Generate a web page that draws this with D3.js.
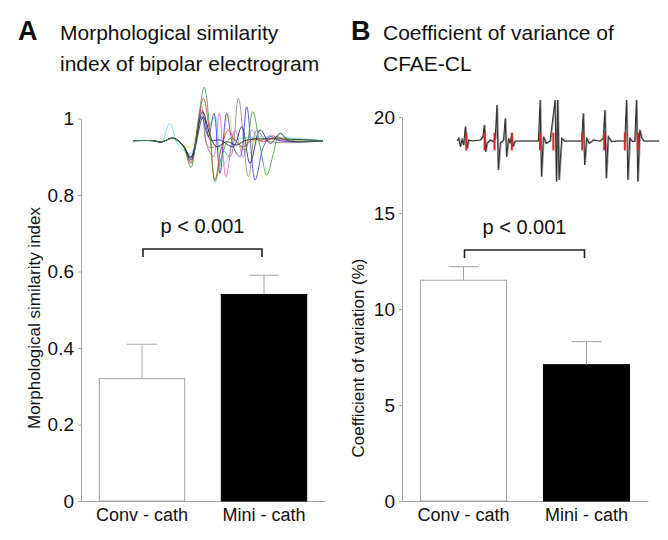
<!DOCTYPE html>
<html><head><meta charset="utf-8">
<script src="https://cdn.jsdelivr.net/npm/d3@7"></script>
<style>
body{margin:0;background:#fff}
text{font-family:"Liberation Sans",Arial,Helvetica,sans-serif;fill:#111}
</style>
</head><body><svg id="c" width="668" height="540"></svg>
<script>
// ---------- data ----------
const categories = ["Conv - cath", "Mini - cath"];
const msiMean = [0.32, 0.54];
const msiErr = [0.09, 0.05];
const msiTicks = [0, 0.2, 0.4, 0.6, 0.8, 1];
const msiTickLabels = ["0", "0.2", "0.4", "0.6", "0.8", "1"];
const cvMean = [11.5, 7.1];
const cvErr = [0.7, 1.2];
const cvTicks = [0, 5, 10, 15, 20];
const cvTickLabels = ["0", "5", "10", "15", "20"];
const pText = "p < 0.001";

// inset A: overlaid bipolar electrogram beats [sample, amplitude]
const egmPrefix = [[0,0],[60,0],[85,-4],[120,8],[150,-15]];
const egmGreen = [[0,0],[60,0],[82,-4],[120,7],[150,-18],[173,-80],[195,62],[213,160],[230,32],[245,-123],[265,-48],[290,7],[315,-8],[335,-28],[358,87],[380,-18],[400,-103],[420,-38],[438,22],[460,7],[480,0],[568,0]];
const egmRed = [[173,-68],[210,127],[228,32],[245,-118],[265,-18],[285,32],[305,2],[330,-18],[360,7],[390,-3],[430,12],[460,0],[568,0]];
const egmBlue = [[173,-53],[205,72],[225,12],[242,82],[260,-98],[280,82],[300,-18],[320,-48],[340,102],[365,-118],[390,-18],[410,12],[440,0],[568,0]];
const egmMagenta = [[173,-63],[205,92],[222,-18],[240,-48],[258,82],[278,-108],[305,32],[330,-48],[355,32],[380,0],[415,17],[440,0],[568,0]];
const egmCyan = [[0,0],[60,0],[85,-4],[110,52],[135,-13],[173,-38],[205,92],[225,42],[245,72],[265,-78],[285,-48],[305,0],[568,0]];
const egmYellow = [[173,-18],[200,32],[240,-48],[260,-38],[285,82],[310,-38],[335,-18],[360,0],[568,0]];
const egmGray = [[173,-48],[205,102],[225,-18],[260,-18],[290,-48],[315,127],[345,-108],[370,32],[400,0],[568,0]];
const egmBlack = [[173,-50],[208,87],[230,17],[250,-18],[280,-3],[310,-13],[340,2],[568,0]];
const egmNavy = [[173,-58],[210,72],[232,2],[260,2],[300,-18],[325,42],[350,-68],[380,32],[410,-8],[440,22],[465,0],[568,0]];

// inset B: CFAE recording [sample, amplitude] and red CL markers (sample)
const cfaeTrace = [[0,0],[5,8],[10,-17],[15,5],[20,-12],[25,43],[30,-22],[35,3],[45,0],[70,3],[78,13],[82,48],[86,-32],[90,-7],[100,3],[108,-2],[115,8],[120,108],[124,-87],[130,-7],[140,3],[145,68],[149,-47],[155,8],[160,-7],[165,23],[168,-17],[175,0],[245,0],[250,123],[254,-107],[260,13],[268,-7],[280,0],[295,123],[299,-122],[303,123],[307,-117],[315,8],[325,-2],[330,0],[375,0],[380,83],[384,-72],[390,8],[398,-7],[410,3],[430,0],[440,8],[445,93],[449,-112],[455,13],[465,-2],[480,0],[505,0],[510,123],[514,-117],[520,8],[528,-2],[535,0],[540,123],[544,-122],[550,33],[556,8],[562,0],[608,0]];
const cfaeMarks = [28, 83, 113, 165, 250, 290, 377, 443, 505, 545];

// ---------- drawing ----------
const svg = d3.select("#c");
const AX = "#a3a3a3";

function panel(o) {
  const y = d3.scaleLinear().domain(o.domain).range([501, o.top]);
  const x = d3.scaleBand().domain(categories).range([o.x0, o.x1]).paddingInner(0.3).paddingOuter(0.15);
  const g = svg.append("g");
  // y axis
  const ya = d3.axisLeft(y).tickValues(o.ticks).tickSize(3).tickSizeOuter(0)
      .tickFormat((d, i) => o.tickLabels[i]);
  const yg = g.append("g").attr("transform", `translate(${o.x0},0)`).call(ya);
  yg.select(".domain").attr("stroke", AX);
  yg.selectAll(".tick line").attr("stroke", AX);
  yg.selectAll(".tick text").attr("x", -7).attr("font-size", 19).attr("fill", "#111")
    .attr("font-family", '"Liberation Sans",Arial,sans-serif');
  // x axis
  const xa = d3.axisBottom(x).tickSize(0).tickSizeOuter(0);
  const xg = g.append("g").attr("transform", "translate(0,501)").call(xa);
  xg.select(".domain").attr("stroke", AX);
  xg.selectAll(".tick text").attr("y", 7).attr("font-size", 18).attr("fill", "#111")
    .attr("font-family", '"Liberation Sans",Arial,sans-serif');
  // bars
  g.selectAll("rect.bar").data(categories).join("rect").attr("class", "bar")
    .attr("x", d => x(d)).attr("width", x.bandwidth())
    .attr("y", (d, i) => y(o.mean[i])).attr("height", (d, i) => y(0) - y(o.mean[i]))
    .attr("fill", (d, i) => i === 0 ? "#fff" : "#000")
    .attr("stroke", (d, i) => i === 0 ? AX : "#000").attr("stroke-width", 1);
  // error bars
  categories.forEach((c, i) => {
    const cx = x(c) + x.bandwidth() / 2;
    g.append("line").attr("x1", cx).attr("x2", cx)
      .attr("y1", y(o.mean[i])).attr("y2", y(o.mean[i] + o.err[i])).attr("stroke", AX);
    g.append("line").attr("x1", cx - 15).attr("x2", cx + 15)
      .attr("y1", y(o.mean[i] + o.err[i])).attr("y2", y(o.mean[i] + o.err[i])).attr("stroke", AX);
  });
  // significance bracket
  const c0 = x(categories[0]) + x.bandwidth() / 2 + 1, c1 = x(categories[1]) + x.bandwidth() / 2 - 2;
  g.append("path").attr("d", `M${c0},${o.brY + 8}V${o.brY}H${c1}V${o.brY + 8}`)
    .attr("fill", "none").attr("stroke", "#222").attr("stroke-width", 1.6);
  g.append("text").attr("x", (c0 + c1) / 2).attr("y", o.brY - 16).attr("text-anchor", "middle")
    .attr("font-size", 20).text(pText);
  // y label
  g.append("text").attr("transform", `translate(${o.labX},${o.labY}) rotate(-90)`)
    .attr("text-anchor", "middle").attr("font-size", 17).text(o.ylab);
  // panel letter and title
  g.append("text").attr("x", o.letterX).attr("y", 40).attr("font-size", 27).attr("font-weight", "bold")
    .attr("font-family", '"Liberation Sans",Arial,sans-serif').text(o.letter);
  o.title.forEach((t, i) => g.append("text").attr("x", o.titleX).attr("y", 40 + i * 31)
    .attr("font-size", 21).text(t));
  return g;
}

panel({domain: [0, 1], top: 118.5, x0: 81, x1: 325, ticks: msiTicks, tickLabels: msiTickLabels,
  mean: msiMean, err: msiErr, brY: 249, labX: 40, labY: 318, ylab: "Morphological similarity index",
  letter: "A", letterX: 18, titleX: 60, title: ["Morphological similarity", "index of bipolar electrogram"]});
panel({domain: [0, 20], top: 117, x0: 402, x1: 648, ticks: cvTicks, tickLabels: cvTickLabels,
  mean: cvMean, err: cvErr, brY: 250, labX: 364, labY: 358, ylab: "Coefficient of variation (%)",
  letter: "B", letterX: 351, titleX: 383, title: ["Coefficient of variance of", "CFAE-CL"]});

// inset A
const ex = d3.scaleLinear().domain([0, 568]).range([133, 323]);
const ey = d3.scaleLinear().domain([-150, 150]).range([190.7, 90.7]);
const eline = d3.line().x(d => ex(d[0])).y(d => ey(d[1])).curve(d3.curveCatmullRom.alpha(0.5));
const traces = [
  {d: egmYellow, c: "#e6e04a", p: true},
  {d: egmCyan, c: "#5fe3ef", p: false},
  {d: egmMagenta, c: "#e060e0", p: true},
  {d: egmGray, c: "#8c8c8c", p: true},
  {d: egmBlue, c: "#3c3cf0", p: true},
  {d: egmRed, c: "#e23a2a", p: true},
  {d: egmNavy, c: "#24247a", p: true},
  {d: egmBlack, c: "#222", p: true},
  {d: egmGreen, c: "#3c9c3c", p: false}
];
const ga = svg.append("g");
traces.forEach(t => {
  const pts = t.p ? egmPrefix.concat(t.d) : t.d;
  ga.append("path").attr("d", eline(pts)).attr("fill", "none").attr("stroke", t.c)
    .attr("stroke-width", 1).attr("opacity", 0.85);
});

// inset B
const bx = d3.scaleLinear().domain([0, 608]).range([457, 659]);
const by = d3.scaleLinear().domain([-150, 150]).range([191, 91]);
const gb = svg.append("g");
gb.append("path").attr("d", d3.line().x(d => bx(d[0]) + 0.8).y(d => by(d[1]))(cfaeTrace))
  .attr("fill", "none").attr("stroke", "#9a9a9a").attr("stroke-width", 1.2);
gb.append("path").attr("d", d3.line().x(d => bx(d[0])).y(d => by(d[1]))(cfaeTrace))
  .attr("fill", "none").attr("stroke", "#333").attr("stroke-width", 1.1);
gb.selectAll("line.m").data(cfaeMarks).join("line").attr("class", "m")
  .attr("x1", d => bx(d)).attr("x2", d => bx(d)).attr("y1", by(25)).attr("y2", by(-28))
  .attr("stroke", "#e02020").attr("stroke-width", 2);
</script></body></html>
